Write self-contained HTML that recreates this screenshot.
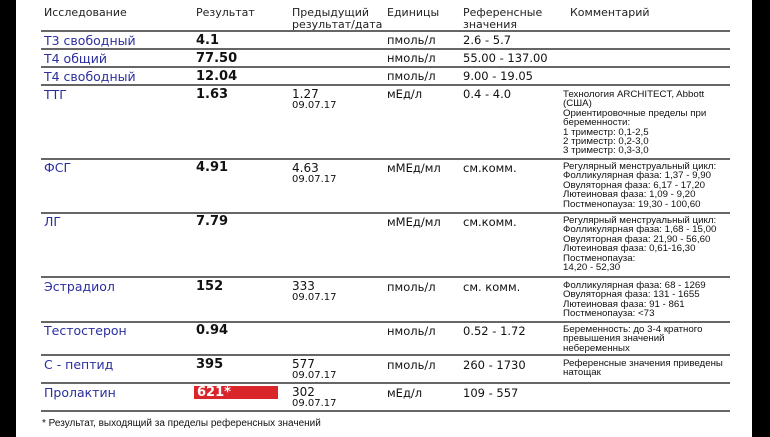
<!DOCTYPE html>
<html><head><meta charset="utf-8"><style>
body{margin:0;width:770px;height:437px;background:#fff;position:relative;overflow:hidden;font-family:"DejaVu Sans","Liberation Sans",sans-serif;color:#111}
.bl{position:absolute;top:0;height:437px;background:#000}
.t{position:absolute;white-space:nowrap}
.h{font-size:11px;line-height:12px;color:#222}
.n{font-size:12.5px;color:#2b2f9e;line-height:15px}
.r{font-size:13px;font-weight:bold;line-height:15px}
.p{font-size:12px;line-height:13px}
.p small{font-size:10px;display:block;line-height:10px}
.u,.f{font-size:11.5px;line-height:15px}
.c{font-size:9.5px;line-height:9.4px;font-family:"Liberation Sans",sans-serif;transform:scaleX(1.02);transform-origin:left}
.ln{position:absolute;left:41px;width:689px;height:2px;background:#666}
</style></head><body>
<div class="bl" style="left:0;width:16px"></div>
<div class="bl" style="left:752px;width:18px"></div>

<div class="t h" style="left:44px;top:7px">Исследование</div>
<div class="t h" style="left:196px;top:7px">Результат</div>
<div class="t h" style="left:292px;top:7px">Предыдущий<br>результат/дата</div>
<div class="t h" style="left:387px;top:7px">Единицы</div>
<div class="t h" style="left:463px;top:7px">Референсные<br>значения</div>
<div class="t h" style="left:570px;top:7px">Комментарий</div>

<div class="ln" style="top:30px"></div>
<div class="ln" style="top:48px"></div>
<div class="ln" style="top:66px"></div>
<div class="ln" style="top:84px"></div>
<div class="ln" style="top:158px"></div>
<div class="ln" style="top:212px"></div>
<div class="ln" style="top:276px"></div>
<div class="ln" style="top:321px"></div>
<div class="ln" style="top:354px"></div>
<div class="ln" style="top:382px"></div>
<div class="ln" style="top:410px"></div>

<!-- rows -->
<div class="t n" style="left:44px;top:33px">Т3 свободный</div>
<div class="t r" style="left:196px;top:33px">4.1</div>
<div class="t u" style="left:387px;top:33px">пмоль/л</div>
<div class="t f" style="left:463px;top:33px">2.6 - 5.7</div>

<div class="t n" style="left:44px;top:51px">Т4 общий</div>
<div class="t r" style="left:196px;top:51px">77.50</div>
<div class="t u" style="left:387px;top:51px">нмоль/л</div>
<div class="t f" style="left:463px;top:51px">55.00 - 137.00</div>

<div class="t n" style="left:44px;top:69px">Т4 свободный</div>
<div class="t r" style="left:196px;top:69px">12.04</div>
<div class="t u" style="left:387px;top:69px">пмоль/л</div>
<div class="t f" style="left:463px;top:69px">9.00 - 19.05</div>

<div class="t n" style="left:44px;top:87px">ТТГ</div>
<div class="t r" style="left:196px;top:87px">1.63</div>
<div class="t p" style="left:292px;top:88px">1.27<small>09.07.17</small></div>
<div class="t u" style="left:387px;top:87px">мЕд/л</div>
<div class="t f" style="left:463px;top:87px">0.4 - 4.0</div>
<div class="t c" style="left:563px;top:90px">Технология ARCHITECT, Abbott<br>(США)<br>Ориентировочные пределы при<br>беременности:<br>1 триместр: 0,1-2,5<br>2 триместр: 0,2-3,0<br>3 триместр: 0,3-3,0</div>

<div class="t n" style="left:44px;top:160px">ФСГ</div>
<div class="t r" style="left:196px;top:160px">4.91</div>
<div class="t p" style="left:292px;top:162px">4.63<small>09.07.17</small></div>
<div class="t u" style="left:387px;top:161px">мМЕд/мл</div>
<div class="t f" style="left:463px;top:161px">см.комм.</div>
<div class="t c" style="left:563px;top:162px">Регулярный менструальный цикл:<br>Фолликулярная фаза: 1,37 - 9,90<br>Овуляторная фаза: 6,17 - 17,20<br>Лютеиновая фаза: 1,09 - 9,20<br>Постменопауза: 19,30 - 100,60</div>

<div class="t n" style="left:44px;top:214px">ЛГ</div>
<div class="t r" style="left:196px;top:214px">7.79</div>
<div class="t u" style="left:387px;top:215px">мМЕд/мл</div>
<div class="t f" style="left:463px;top:215px">см.комм.</div>
<div class="t c" style="left:563px;top:216px">Регулярный менструальный цикл:<br>Фолликулярная фаза: 1,68 - 15,00<br>Овуляторная фаза: 21,90 - 56,60<br>Лютеиновая фаза: 0,61-16,30<br>Постменопауза:<br>14,20 - 52,30</div>

<div class="t n" style="left:44px;top:279px">Эстрадиол</div>
<div class="t r" style="left:196px;top:279px">152</div>
<div class="t p" style="left:292px;top:280px">333<small>09.07.17</small></div>
<div class="t u" style="left:387px;top:280px">пмоль/л</div>
<div class="t f" style="left:463px;top:280px">см. комм.</div>
<div class="t c" style="left:563px;top:281px">Фолликулярная фаза: 68 - 1269<br>Овуляторная фаза: 131 - 1655<br>Лютеиновая фаза: 91 - 861<br>Постменопауза: &lt;73</div>

<div class="t n" style="left:44px;top:323px">Тестостерон</div>
<div class="t r" style="left:196px;top:323px">0.94</div>
<div class="t u" style="left:387px;top:324px">нмоль/л</div>
<div class="t f" style="left:463px;top:324px">0.52 - 1.72</div>
<div class="t c" style="left:563px;top:325px">Беременность: до 3-4 кратного<br>превышения значений<br>небеременных</div>

<div class="t n" style="left:44px;top:357px">С - пептид</div>
<div class="t r" style="left:196px;top:357px">395</div>
<div class="t p" style="left:292px;top:358px">577<small>09.07.17</small></div>
<div class="t u" style="left:387px;top:358px">пмоль/л</div>
<div class="t f" style="left:463px;top:358px">260 - 1730</div>
<div class="t c" style="left:563px;top:359px">Референсные значения приведены<br>натощак</div>

<div class="t n" style="left:44px;top:385px">Пролактин</div>
<div style="position:absolute;left:194px;top:386px;width:84px;height:13px;background:#d9262b"></div>
<div class="t r" style="left:197px;top:385px;color:#fff">621*</div>
<div class="t p" style="left:292px;top:386px">302<small>09.07.17</small></div>
<div class="t u" style="left:387px;top:386px">мЕд/л</div>
<div class="t f" style="left:463px;top:386px">109 - 557</div>

<div class="t" style="left:42px;top:418px;font-size:10px;font-family:'Liberation Sans',sans-serif">* Результат, выходящий за пределы референсных значений</div>
</body></html>
